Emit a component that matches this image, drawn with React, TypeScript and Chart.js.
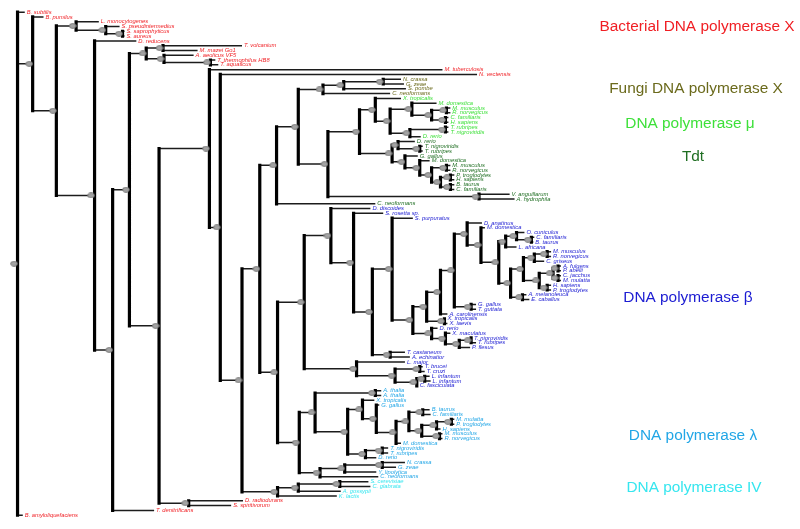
import { useEffect, useRef } from "react";
import { Chart, registerables } from "chart.js";
Chart.register(...registerables);

// ---------- DATA ----------
const leafNames = [
  "B. subtilis", "B. pumilus", "L. monocytogenes", "S. pseudintermedius", "S. saprophyticus", "S. aureus",
  "D. reducens", "T. volcanium", "M. mazei Go1", "A. aeolicus VF5", "T. thermophilus HB8", "T. aquaticus",
  "M. tuberculosis", "N. vectensis",
  "N. crassa", "G. zeae", "S. pombe", "C. neoformans",
  "X. tropicalis", "M. domestica", "M. musculus", "R. norvegicus", "C. familiaris", "H. sapiens",
  "T. rubripes", "T. nigroviridis", "D. rerio",
  "D. rerio", "T. nigroviridis", "T. rubripes", "G. gallus", "M. domestica", "M. musculus", "R. norvegicus",
  "P. troglodytes", "H. sapiens", "B. taurus", "C. familiaris", "V. anguillarum", "A. hydrophila", "C. neoformans",
  "D. discoides", "S. rosetta sp.", "S. purpuratus", "D. anatinus", "M. domestica", "O. cuniculus",
  "C. familiaris", "B. taurus", "L. africana", "M. musculus", "R. norvegicus", "C. griseus", "A. fulgens",
  "P. abelii", "C. jacchus", "M. mulatta", "H. sapiens", "P. troglodytes", "A. melanoleuca", "E. caballus",
  "G. gallus", "T. guttata", "A. carolinensis", "X. tropicalis", "X. laevis", "D. rerio", "X. maculatus",
  "T. nigroviridis", "T. rubripes", "P. flesus", "T. castaneum", "A. echinatior", "L. major", "T. brucei",
  "T. cruzi", "L. infantum", "L. infantum", "C. fasciculata",
  "A. thalia", "A. thalia", "X. tropicalis", "G. gallus", "B. taurus", "C. familiaris", "M. mulatta",
  "P. troglodytes", "H. sapiens", "M. musculus", "R. norvegicus", "M. domestica", "T. nigroviridis",
  "T. rubripes", "D. rerio", "N. crassa", "G. zeae", "Y. lipolytica", "C. neoformans",
  "S. cerevisiae", "C. glabrata", "A. gossypii", "K. lactis",
  "D. radiodurans", "S. spiritivorum", "T. denitrificans", "B. amyloliquefaciens",
];

const leafGroups = [
  0, 0, 0, 0, 0, 0, 0, 0, 0, 0, 0, 0, 0, 0,
  1, 1, 1, 1,
  2, 2, 2, 2, 2, 2, 2, 2, 2,
  3, 3, 3, 3, 3, 3, 3, 3, 3, 3, 3, 3, 3, 3,
  4, 4, 4, 4, 4, 4, 4, 4, 4, 4, 4, 4, 4, 4, 4, 4, 4, 4, 4, 4, 4, 4, 4, 4, 4, 4, 4, 4, 4, 4, 4, 4, 4, 4, 4, 4, 4, 4,
  5, 5, 5, 5, 5, 5, 5, 5, 5, 5, 5, 5, 5, 5, 5, 5, 5, 5, 5,
  6, 6, 6, 6,
  0, 0, 0, 0,
];

// tip position of every leaf along the distance axis
const leafTipX = [
  20, 39, 95, 116, 121, 121, 133, 240, 195, 191, 213, 216, 443, 478,
  401, 404, 406, 390,
  401, 437, 451, 451, 449, 449, 449, 449, 421,
  415, 423, 423, 418, 430, 451, 451, 455, 455, 455, 455, 511, 516, 375,
  370, 383, 413, 483, 486, 526, 536, 535, 518, 553, 553, 546, 563, 563, 563, 563, 553, 553, 528, 531,
  477, 477, 448, 446, 448, 438, 451, 473, 477, 471, 405, 410, 405, 423, 425, 430, 431, 418,
  381, 381, 374, 379, 430, 431, 455, 455, 441, 443, 443, 401, 388, 388, 376, 405, 396, 376, 378,
  368, 370, 340, 336,
  241, 229, 151, 18,
];

const groupNames = [
  "Bacterial DNA polymerase X", "Fungi DNA polymerase X", "DNA polymerase \u03bc", "Tdt",
  "DNA polymerase \u03b2", "DNA polymerase \u03bb", "DNA polymerase IV",
];
const groupColors = ["#f01e23", "#6b6a1c", "#3ee03a", "#1f6e22", "#1c1cd2", "#22a6e6", "#36e6ef"];
// layout of the clade captions (pixel centres)
const groupLabelX = [697, 696, 690, 693, 688, 693, 694];
const groupLabelY = [27, 89, 124, 157, 298, 436, 488];

// ---------- TREE (node = position of its vertical bar, children) ----------
type TN = { x: number; c: (TN | number)[] };
const N = (x: number, c: (TN | number)[]): TN => ({ x, c });

const muClade = N(375, [
  18,
  N(390, [
    N(412, [19, N(432, [N(447, [20, 21]), N(446, [22, 23])])]),
    N(410, [N(446, [24, 25]), 26]),
  ]),
]);
const tdtClade = N(392, [
  N(398, [27, N(420, [28, 29])]),
  N(405, [30, N(420, [31, N(432, [N(447, [32, 33]), N(441, [N(451, [34, 35]), N(451, [36, 37])])])])]),
]);
const mammalsBeta = N(500, [
  N(507, [N(518, [46, N(533, [47, 48])]), 49]),
  N(512, [
    N(525, [
      N(536, [N(549, [50, 51]), 52]),
      N(541, [N(555, [N(560, [53, 54]), N(560, [55, 56])]), N(549, [57, 58])]),
    ]),
    N(524, [59, 60]),
  ]),
]);
const vertebrateBeta = N(413, [
  N(427, [
    N(441, [N(455, [N(468, [44, N(482, [45, mammalsBeta])]), N(472, [61, 62])]), 63]),
    N(445, [64, 65]),
  ]),
  N(432, [66, N(446, [67, N(460, [N(472, [68, 69]), 70])])]),
]);
const betaClade = N(303, [
  N(330, [41, N(353, [42, N(372, [N(392, [43, vertebrateBeta]), N(390, [71, 72])])])]),
  N(356, [73, N(395, [N(420, [74, 75]), N(417, [N(425, [76, 77]), 78])])]),
]);
const lambdaClade = N(298, [
  N(314, [
    N(375, [79, 80]),
    N(347, [
      N(362, [81, N(376, [82, N(396, [N(409, [N(423, [83, 84]), N(422, [N(437, [N(452, [85, 86]), 87]), N(440, [88, 89])])]), 90])])]),
      N(365, [N(382, [91, 92]), 93]),
    ]),
  ]),
  N(319, [N(344, [N(382, [94, 95]), 96]), 97]),
]);
const pol4Clade = N(276, [N(297, [N(339, [98, 99]), 100]), 101]);

const tree: TN = N(12.7, [
  0,
  N(28, [
    1,
    N(52, [
      N(72, [2, N(102, [3, N(119, [4, 5])])]),
      N(90.7, [
        6,
        N(109, [
          N(126, [
            N(143, [N(160, [7, 8]), N(161, [9, N(208, [10, 11])])]),
            N(156, [
              N(207, [
                12,
                N(218, [
                  13,
                  N(240, [
                    N(258, [
                      N(275, [
                        N(297, [
                          N(322, [N(343, [N(383, [14, 15]), 16]), 17]),
                          N(327, [N(359, [muClade, tdtClade]), N(480, [38, 39])]),
                        ]),
                        40,
                      ]),
                      N(276, [betaClade, lambdaClade]),
                    ]),
                    pol4Clade,
                  ]),
                ]),
              ]),
              N(186, [102, 103]),
            ]),
          ]),
          104,
        ]),
      ]),
    ]),
  ]),
  105,
]);

type P = { x: number; y: number };

function buildSegments() {
  const hSegs: P[] = [];
  const vSegs: P[] = [];
  const marks: P[] = [];
  const gap = { x: NaN, y: NaN };
  const walk = (node: TN | number, px: number | null): number => {
    if (typeof node === "number") {
      if (px !== null) hSegs.push({ x: px, y: node }, { x: leafTipX[node], y: node }, gap);
      return node;
    }
    const ys = node.c.map((ch) => walk(ch, node.x));
    const y = (ys[0] + ys[ys.length - 1]) / 2;
    vSegs.push({ x: node.x, y: ys[0] }, { x: node.x, y: ys[ys.length - 1] }, gap);
    if (px !== null) hSegs.push({ x: px, y }, { x: node.x, y }, gap);
    marks.push({ x: node.x - 3.5, y });
    return y;
  };
  walk(tree, null);
  return { hSegs, vSegs, marks };
}

export default function App() {
  const ref = useRef<HTMLCanvasElement>(null);
  useEffect(() => {
    if (!ref.current) return;
    const { hSegs, vSegs, marks } = buildSegments();

    const mk = document.createElement("canvas");
    mk.width = 8;
    mk.height = 6;
    const mc = mk.getContext("2d")!;
    mc.beginPath();
    mc.ellipse(4, 3, 3.4, 2.4, 0, 0, Math.PI * 2);
    mc.fillStyle = "#a4a4a4";
    mc.fill();
    mc.strokeStyle = "#6c6c6c";
    mc.lineWidth = 0.8;
    mc.stroke();

    const labelPlugin = {
      id: "treeLabels",
      afterDatasetsDraw(chart: any) {
        const ctx = chart.ctx;
        const xs = chart.scales.x;
        const ys = chart.scales.y;
        ctx.save();
        ctx.textBaseline = "middle";
        ctx.textAlign = "left";
        ctx.font = 'italic 5.8px "Liberation Sans", Arial, sans-serif';
        leafNames.forEach((name, i) => {
          ctx.fillStyle = groupColors[leafGroups[i]];
          ctx.fillText(name, xs.getPixelForValue(leafTipX[i]) + 2, ys.getPixelForValue(i));
        });
        ctx.textAlign = "center";
        ctx.font = '15.4px "Liberation Sans", Arial, sans-serif';
        groupNames.forEach((g, i) => {
          ctx.fillStyle = groupColors[i];
          ctx.fillText(g, groupLabelX[i], groupLabelY[i]);
        });
        ctx.restore();
      },
    };

    const chart = new Chart(ref.current, {
      type: "scatter",
      data: {
        datasets: [
          {
            data: marks,
            pointStyle: mk as any,
            pointRadius: 4,
            showLine: false,
            order: 0,
          } as any,
          {
            data: vSegs,
            showLine: true,
            spanGaps: false,
            borderColor: "#000000",
            borderWidth: 3.2,
            borderCapStyle: "square",
            pointRadius: 0,
            order: 1,
          } as any,
          {
            data: hSegs,
            showLine: true,
            spanGaps: false,
            borderColor: "#1c1c1c",
            borderWidth: 1.5,
            pointRadius: 0,
            order: 2,
          } as any,
        ],
      },
      options: {
        animation: false,
        responsive: false,
        devicePixelRatio: 1,
        layout: { padding: 0 },
        plugins: { legend: { display: false }, tooltip: { enabled: false } },
        events: [],
        scales: {
          x: { type: "linear", display: false, min: 0, max: 800, bounds: "data" },
          y: { type: "linear", display: false, min: -1.495, max: 106.84, reverse: true, bounds: "data" },
        },
      } as any,
      plugins: [labelPlugin],
    });
    return () => chart.destroy();
  }, []);
  return (
    <div style={{ position: "absolute", left: 0, top: 0, width: 800, height: 529, background: "#fff" }}>
      <canvas ref={ref} width={800} height={529} style={{ display: "block", width: 800, height: 529 }} />
    </div>
  );
}
